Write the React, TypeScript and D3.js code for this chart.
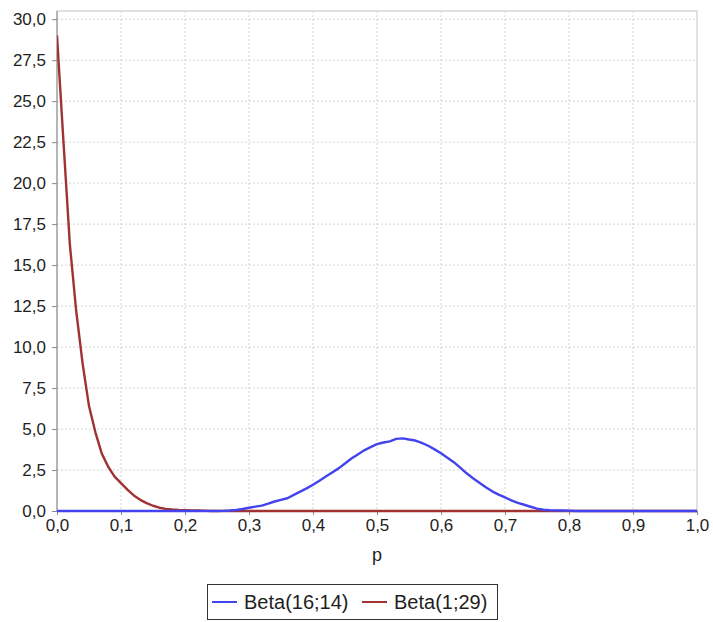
import { useEffect, useRef } from 'react';
import * as d3 from 'd3';

// p values on a 0.01 grid
const pValues = d3.range(0, 101).map(i => i / 100);

// Beta(16;14) density, one value per 0.01 step of p
const beta16_14 = [
  0, 0, 0, 0, 0, 0, 0, 0, 0, 0,
  0, 0, 0, 0, 0, 0, 0, 0, 0, 0,
  0, 0, 0, 0, 0, 0, 0.01, 0.03, 0.06, 0.12,
  0.2, 0.27, 0.33, 0.45, 0.58, 0.68, 0.78, 0.98, 1.18, 1.38,
  1.6, 1.85, 2.1, 2.35, 2.6, 2.9, 3.2, 3.45, 3.7, 3.9,
  4.08, 4.18, 4.25, 4.4, 4.43, 4.36, 4.3, 4.15, 3.98, 3.76,
  3.52, 3.25, 2.98, 2.65, 2.3, 2.0, 1.72, 1.45, 1.2, 1.0,
  0.83, 0.65, 0.5, 0.38, 0.26, 0.14, 0.08, 0.05, 0.04, 0.03,
  0.02, 0, 0, 0, 0, 0, 0, 0, 0, 0,
  0, 0, 0, 0, 0, 0, 0, 0, 0, 0,
  0
];

// Beta(1;29) density
const beta1_29 = [
  29.0, 22.6, 16.3, 12.2, 9.0, 6.4, 4.8, 3.5, 2.7, 2.1,
  1.7, 1.3, 0.95, 0.68, 0.48, 0.32, 0.2, 0.13, 0.09, 0.06,
  0.05, 0.04, 0.04, 0.02, 0, 0, 0, 0, 0, 0,
  0, 0, 0, 0, 0, 0, 0, 0, 0, 0,
  0, 0, 0, 0, 0, 0, 0, 0, 0, 0,
  0, 0, 0, 0, 0, 0, 0, 0, 0, 0,
  0, 0, 0, 0, 0, 0, 0, 0, 0, 0,
  0, 0, 0, 0, 0, 0, 0, 0, 0, 0,
  0, 0, 0, 0, 0, 0, 0, 0, 0, 0,
  0, 0, 0, 0, 0, 0, 0, 0, 0, 0,
  0
];

const xTicks = d3.range(0, 11).map(i => i / 10);
const yTicks = d3.range(0, 13).map(i => i * 2.5);

const seriesNames = ['Beta(16;14)', 'Beta(1;29)'];
const seriesColors = ['#4444ee', '#a03232'];

function App() {
  const ref = useRef<SVGSVGElement>(null);

  useEffect(() => {
    const svg = d3.select(ref.current);
    svg.selectAll('*').remove();

    const config = { left: 57, right: 697, top: 11, bottom: 511 };
    const font = '"Liberation Sans", Arial, sans-serif';
    const fmt = (d: number) => d.toFixed(1).replace('.', ',');

    const x = d3.scaleLinear().domain([0, 1]).range([config.left, config.right]);
    const y = d3.scaleLinear().domain([0, 30.5]).range([config.bottom, config.top]);

    // plot background + border
    svg.append('rect')
      .attr('x', config.left).attr('y', config.top)
      .attr('width', config.right - config.left).attr('height', config.bottom - config.top)
      .attr('fill', '#fff').attr('stroke', '#c4c4c4');

    // grid
    svg.append('g').selectAll('line')
      .data(xTicks.filter(d => d > 0 && d < 1))
      .enter().append('line')
      .attr('x1', d => x(d)).attr('x2', d => x(d))
      .attr('y1', config.top).attr('y2', config.bottom)
      .attr('stroke', '#d4d4d4').attr('stroke-dasharray', '2,2');

    svg.append('g').selectAll('line')
      .data(yTicks.filter(d => d > 0))
      .enter().append('line')
      .attr('x1', config.left).attr('x2', config.right)
      .attr('y1', d => y(d)).attr('y2', d => y(d))
      .attr('stroke', '#d4d4d4').attr('stroke-dasharray', '2,2');

    // axes
    const xAxis = svg.append('g')
      .attr('transform', `translate(0,${config.bottom})`)
      .call(d3.axisBottom(x).tickValues(xTicks).tickFormat(d => fmt(+d)).tickSize(4).tickPadding(4));
    const yAxis = svg.append('g')
      .attr('transform', `translate(${config.left},0)`)
      .call(d3.axisLeft(y).tickValues(yTicks).tickFormat(d => fmt(+d)).tickSize(5).tickPadding(6));

    [xAxis, yAxis].forEach(a => {
      a.select('.domain').attr('stroke', '#8a8a8a');
      a.selectAll('.tick line').attr('stroke', '#8a8a8a');
      a.selectAll('text')
        .attr('fill', '#1e1e1e')
        .style('font-family', font)
        .style('font-size', '17px');
    });
    yAxis.select('.domain').attr('d', `M0,${config.bottom}V${config.top}`);
    xAxis.select('.domain').attr('d', `M${config.left},0H${config.right}`);

    svg.append('text')
      .attr('x', x(0.5)).attr('y', 561)
      .attr('text-anchor', 'middle')
      .style('font-family', font).style('font-size', '18px').attr('fill', '#1e1e1e')
      .text('p');

    // curves: red first, blue on top
    const line = d3.line<number>()
      .x((_, i) => x(pValues[i]))
      .y(d => y(d));

    svg.append('clipPath').attr('id', 'plot-clip')
      .append('rect')
      .attr('x', config.left).attr('y', config.top)
      .attr('width', config.right - config.left).attr('height', config.bottom - config.top + 2);

    const plot = svg.append('g').attr('clip-path', 'url(#plot-clip)');
    [beta1_29, beta16_14].forEach((vals, k) => {
      plot.append('path')
        .datum(vals)
        .attr('d', line)
        .attr('fill', 'none')
        .attr('stroke', k === 0 ? seriesColors[1] : seriesColors[0])
        .attr('stroke-width', 2.4)
        .attr('stroke-linejoin', 'round');
    });

    // legend
    const legend = svg.append('g');
    legend.append('rect')
      .attr('x', 207.5).attr('y', 584.5).attr('width', 290).attr('height', 35)
      .attr('fill', '#fff').attr('stroke', '#333');

    const items = [
      { lx: 212, tx: 244 },
      { lx: 362, tx: 394 }
    ];
    seriesNames.forEach((name, i) => {
      legend.append('line')
        .attr('x1', items[i].lx).attr('x2', items[i].lx + 25)
        .attr('y1', 602).attr('y2', 602)
        .attr('stroke', seriesColors[i]).attr('stroke-width', 2);
      legend.append('text')
        .attr('x', items[i].tx).attr('y', 609)
        .style('font-family', font).style('font-size', '20px').attr('fill', '#1e1e1e')
        .text(name);
    });
  }, []);

  return (
    <svg ref={ref} width={713} height={622}
      style={{ position: 'absolute', left: 0, top: 0, background: '#fff' }}>
    </svg>
  );
}

export default App;
